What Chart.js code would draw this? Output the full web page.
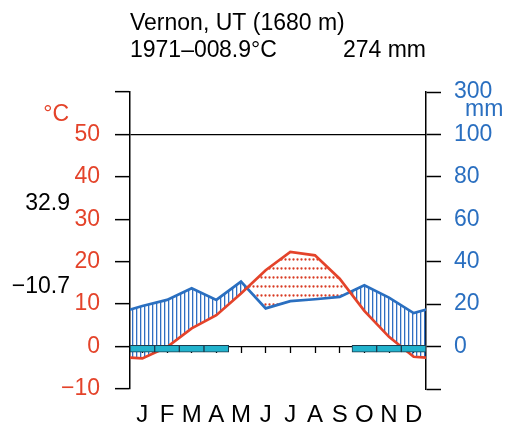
<!DOCTYPE html>
<html>
<head>
<meta charset="utf-8">
<script src="https://cdn.jsdelivr.net/npm/chart.js@4.4.0/dist/chart.umd.min.js"></script>
<style>
body { margin: 0; background: #fff; }
#wrap { width: 513px; height: 430px; }
</style>
</head>
<body>
<div id="wrap"><canvas id="climChart"></canvas></div>
<script>
const months = ['J', 'F', 'M', 'A', 'M', 'J', 'J', 'A', 'S', 'O', 'N', 'D'];
const temps = [-2.8, -0.1, 4.3, 7.4, 12.5, 18.0, 22.3, 21.5, 16.0, 8.4, 2.3, -2.4];
const precip = [19.1, 22.0, 27.5, 22.0, 30.6, 18.0, 21.4, 22.3, 23.4, 28.9, 23.1, 15.8];
const frost = [1, 1, 1, 1, 0, 0, 0, 0, 0, 1, 1, 1];

const tempTicks = [-10, 0, 10, 20, 30, 40, 50, 60];
const tempTickLabels = ['−10', '0', '10', '20', '30', '40', '50', ''];
const precipTicks = [-20, 0, 20, 40, 60, 80, 100, 120];
const precipTickLabels = ['', '0', '20', '40', '60', '80', '100', '300'];

const station = 'Vernon, UT (1680 m)';
const period = '1971–00';
const meanTemp = '8.9°C';
const totalPrecip = '274 mm';
const maxTemp = '32.9';
const minTemp = '−10.7';

const RED = '#e4432a';
const BLUE = '#2a6fc0';
const FONT = '"Liberation Sans", Arial, Helvetica, sans-serif';

// wrap Dec before Jan and Jan after Dec, the chart area clips them at the edges
function wrapped(values) {
    const pts = [{ x: -0.5, y: values[11] }];
    values.forEach((v, i) => pts.push({ x: i + 0.5, y: v }));
    pts.push({ x: 12.5, y: values[0] });
    return pts;
}

function hatchPattern() {
    const c = document.createElement('canvas');
    c.width = 4; c.height = 4;
    const g = c.getContext('2d');
    g.fillStyle = '#2f6fc2';
    g.fillRect(0, 0, 1.3, 4);
    return g.createPattern(c, 'repeat');
}

function dotPattern() {
    const c = document.createElement('canvas');
    c.width = 4; c.height = 9;
    const g = c.getContext('2d');
    g.fillStyle = '#d83a22';
    g.beginPath();
    g.arc(1.5, 7.5, 1.15, 0, Math.PI * 2);
    g.fill();
    return g.createPattern(c, 'repeat');
}

const textPlugin = {
    id: 'climText',
    afterDraw(chart) {
        const ctx = chart.ctx;
        const area = chart.chartArea;
        ctx.save();
        ctx.textBaseline = 'alphabetic';
        ctx.font = '23px ' + FONT;
        ctx.fillStyle = '#000';
        ctx.textAlign = 'left';
        ctx.fillText(station, area.left, 30);
        ctx.fillText(period, area.left, 57);
        ctx.fillText(meanTemp, 219, 57);
        ctx.textAlign = 'right';
        ctx.fillText(totalPrecip, area.right, 57);

        ctx.fillStyle = RED;
        ctx.fillText('°C', 69, 121);
        ctx.fillStyle = '#000';
        ctx.fillText(maxTemp, 70, 210);
        ctx.fillText(minTemp, 70, 293);
        ctx.fillStyle = BLUE;
        ctx.textAlign = 'left';
        ctx.fillText('mm', 465, 116);
        ctx.restore();
    }
};

new Chart(document.getElementById('climChart'), {
    type: 'line',
    data: {
        datasets: [
            {
                label: 'Precipitation',
                data: wrapped(precip),
                yAxisID: 'y2',
                borderColor: BLUE,
                borderWidth: 2.7,
                pointRadius: 0,
                clip: 0,
                fill: { target: 1, above: hatchPattern(), below: dotPattern() },
                order: 2
            },
            {
                label: 'Temperature',
                data: wrapped(temps),
                yAxisID: 'y',
                borderColor: RED,
                borderWidth: 2.7,
                pointRadius: 0,
                clip: 0,
                fill: false,
                order: 1
            },
            {
                type: 'bar',
                label: 'Frost',
                data: frost.map((f, i) => ({ x: i + 0.5, y: f ? [-1.3, 0.3] : null })),
                yAxisID: 'y',
                backgroundColor: '#22b3cd',
                borderColor: '#1b3c4e',
                borderWidth: 1,
                borderSkipped: false,
                barPercentage: 1,
                categoryPercentage: 1,
                order: 0
            }
        ]
    },
    options: {
        responsive: true,
        maintainAspectRatio: false,
        animation: false,
        layout: { padding: { top: 92, left: 0, right: 0, bottom: 0 } },
        plugins: {
            legend: { display: false },
            title: { display: false },
            tooltip: { enabled: false },
            filler: { drawTime: 'beforeDatasetsDraw' }
        },
        scales: {
            x: {
                type: 'linear',
                min: 0,
                max: 12,
                offset: false,
                position: { y: 0 },
                afterBuildTicks: s => { s.ticks = months.map((m, i) => ({ value: i })).concat([{ value: 12 }]); },
                ticks: { display: false },
                grid: { drawOnChartArea: false, tickLength: 6, tickColor: '#000', tickWidth: 1.3 },
                border: { display: false }
            },
            months: {
                type: 'category',
                labels: months,
                position: 'bottom',
                offset: true,
                grid: { display: false, drawTicks: false },
                border: { display: false },
                ticks: { color: '#000', font: { size: 24, family: FONT }, padding: 12, autoSkip: false, maxRotation: 0 },
                afterFit: s => { s.height = 41; }
            },
            y: {
                type: 'linear',
                position: 'left',
                min: -10,
                max: 60,
                afterBuildTicks: s => { s.ticks = tempTicks.map(v => ({ value: v })); },
                ticks: {
                    color: RED,
                    font: { size: 23, family: FONT },
                    padding: 15,
                    callback: v => tempTickLabels[tempTicks.indexOf(v)]
                },
                grid: {
                    color: c => (c.tick && (c.tick.value === 0 || c.tick.value === 50)) ? '#000' : 'rgba(0,0,0,0)',
                    lineWidth: 1.3,
                    tickColor: '#000',
                    tickWidth: 1.5,
                    tickLength: 15
                },
                border: { color: '#000', width: 1.5 },
                afterFit: s => { s.width = 130; }
            },
            y2: {
                type: 'linear',
                position: 'right',
                min: -20,
                max: 120,
                afterBuildTicks: s => { s.ticks = precipTicks.map(v => ({ value: v })); },
                ticks: {
                    color: BLUE,
                    font: { size: 23, family: FONT },
                    padding: 13,
                    callback: v => precipTickLabels[precipTicks.indexOf(v)]
                },
                grid: { drawOnChartArea: false, tickColor: '#000', tickWidth: 1.5, tickLength: 15 },
                border: { color: '#000', width: 1.5 },
                afterFit: s => { s.width = 87; }
            }
        }
    },
    plugins: [textPlugin]
});
</script>
</body>
</html>
